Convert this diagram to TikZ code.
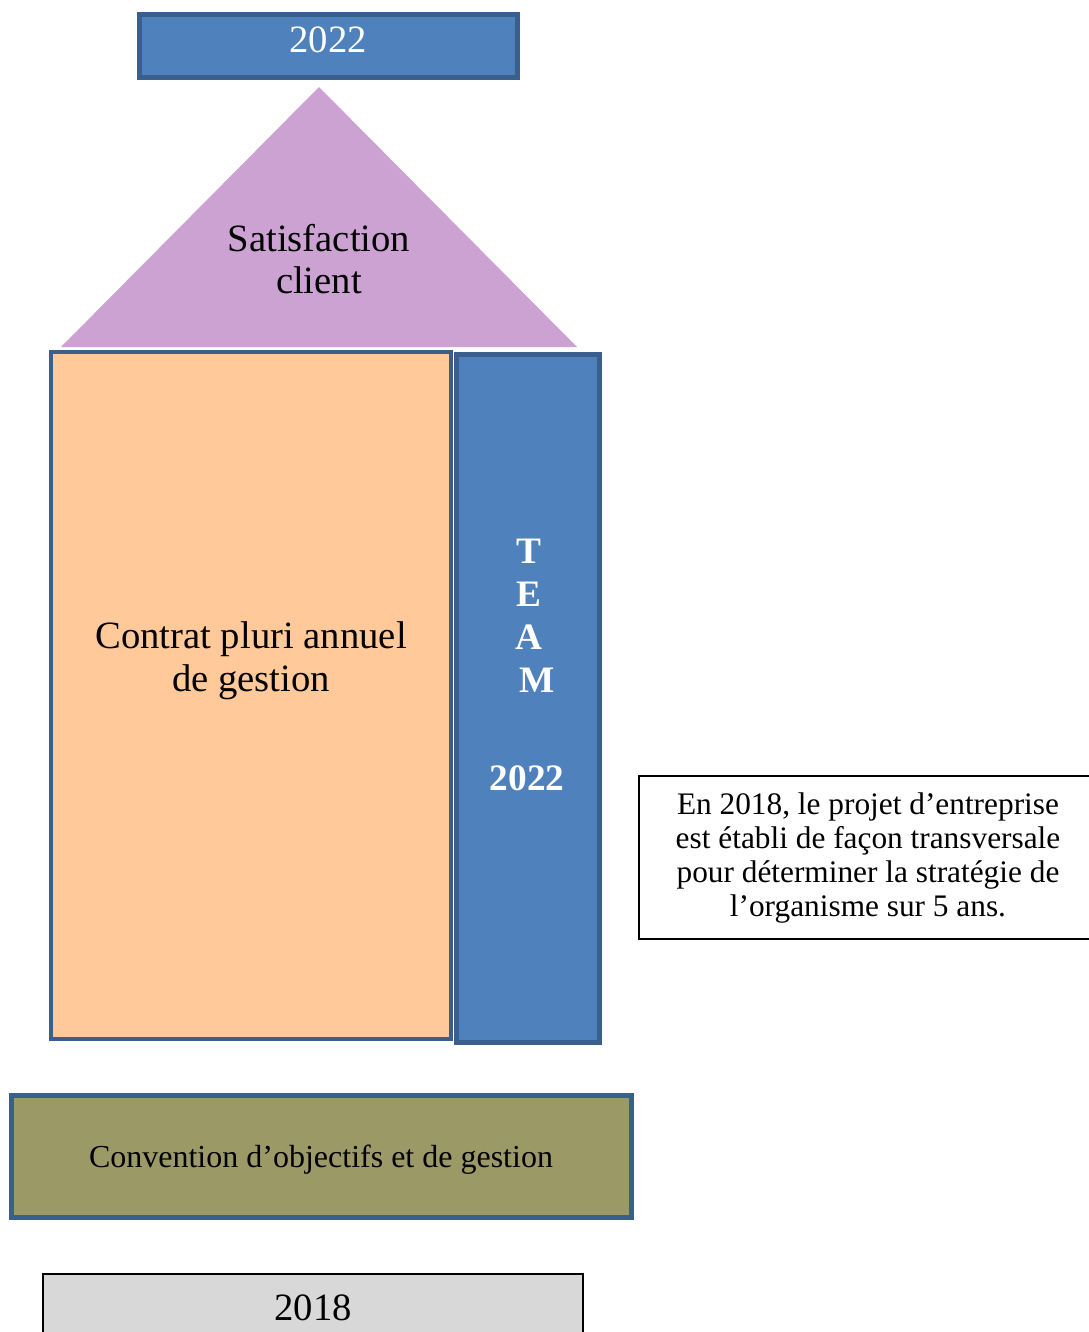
\documentclass[tikz,border=0pt]{standalone}
\usepackage{fontspec}
\setmainfont{Liberation Serif}
\usepackage{xcolor}
\definecolor{BoxBlue}{HTML}{4F81BD}
\definecolor{EdgeBlue}{HTML}{3A5F8C}
\definecolor{Lilac}{HTML}{CCA2D3}
\definecolor{Apricot}{HTML}{FFC999}
\definecolor{Olive}{HTML}{9B9966}
\definecolor{PaleGray}{HTML}{D8D8D8}
\tikzset{
  edgebox/.style={draw=EdgeBlue, line width=3.75pt},
  bigtext/.style={inner sep=0pt, align=center, font=\fontsize{29}{32}\selectfont},
  teamtext/.style={inner sep=0pt, text=white, font=\fontsize{28}{32}\selectfont\bfseries}
}

\begin{document}
\begin{tikzpicture}[x=0.75pt, y=-0.75pt]
  \useasboundingbox (0,0) rectangle (1089,1332);
  % year on top
  \draw[edgebox, fill=BoxBlue] (139.5,14.5) rectangle (517.5,77.5);
  \node[bigtext, text=white] (top) at (328,40) {2022};
  % roof
  \fill[Lilac] (319,87) -- (577,347) -- (61,347) -- cycle;
  \node[bigtext] (roof) at (319,259) {Satisfaction\\client};
  % body and column
  \draw[EdgeBlue, line width=3pt, fill=Apricot] (51,352) rectangle (451,1039);
  \node[bigtext] (contrat) at (251,661) {Contrat pluri annuel\\de gestion};
  \draw[edgebox, fill=BoxBlue] (456.5,354.5) rectangle (599.5,1042.5);
  \foreach \l/\dx [count=\i] in {T/0,E/0,A/0,M/8}{
    \node[teamtext] (team\i) at ({529+\dx},{551+43*(\i-1)}) {\l};
  }
  \node[teamtext] (teamyear) at (527,778) {2022};
  % side note
  \draw[black, line width=1.5pt] (639,776) rectangle (1095,939);
  \node[inner sep=0pt, align=center, font=\fontsize{23.5}{25.5}\selectfont] (note) at (868,858)
    {En 2018, le projet d’entreprise\\est établi de façon transversale\\pour déterminer la stratégie de\\l’organisme sur 5 ans.};
  % foundation
  \draw[edgebox, fill=Olive] (11.5,1095.5) rectangle (631.5,1217.5);
  \node[inner sep=0pt, font=\fontsize{24}{28}\selectfont] (cog) at (321,1160) {Convention d’objectifs et de gestion};
  \draw[black, line width=1.5pt, fill=PaleGray] (43,1274) rectangle (583,1345);
  \node[bigtext] (base) at (313,1308) {2018};
\end{tikzpicture}
\end{document}
